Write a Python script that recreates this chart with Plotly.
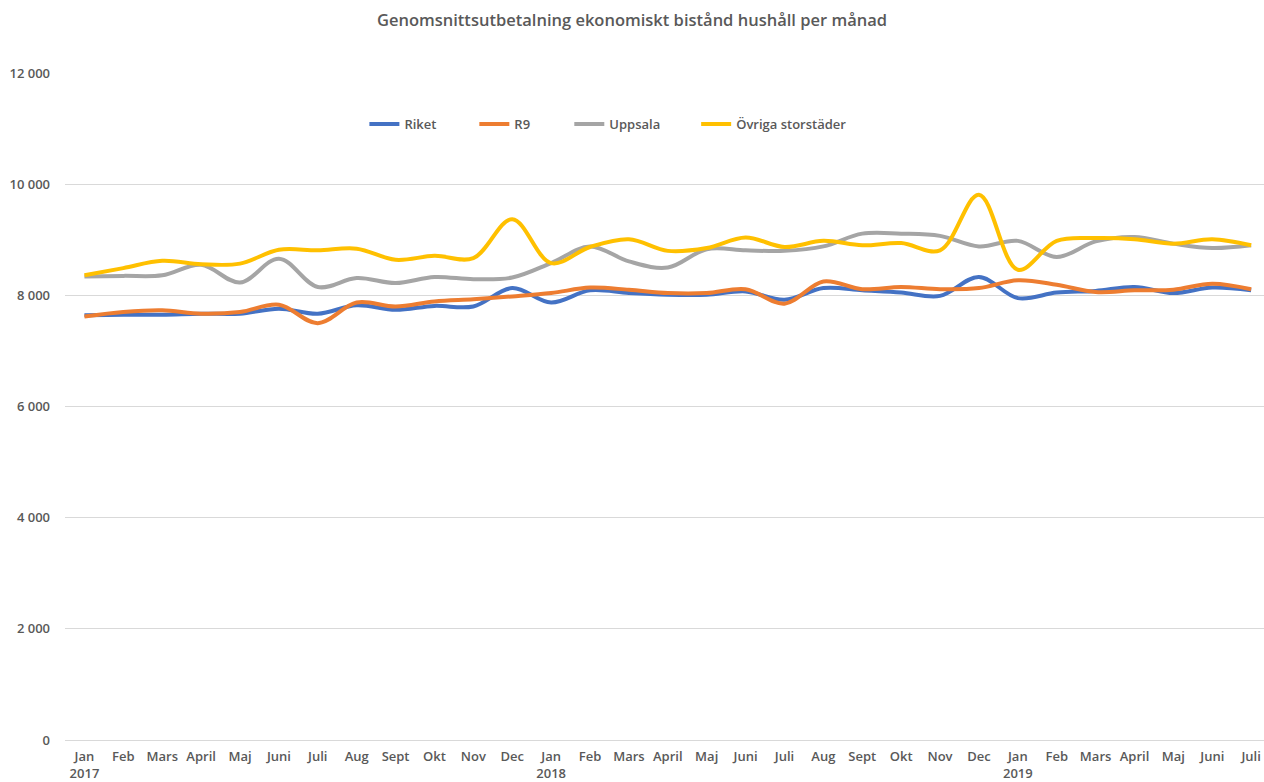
import plotly.graph_objects as go

months = ["Jan<br>2017", "Feb", "Mars", "April", "Maj", "Juni", "Juli", "Aug", "Sept", "Okt", "Nov", "Dec",
          "Jan<br>2018", "Feb", "Mars", "April", "Maj", "Juni", "Juli", "Aug", "Sept", "Okt", "Nov", "Dec",
          "Jan<br>2019", "Feb", "Mars", "April", "Maj", "Juni", "Juli"]

riket = [7640, 7650, 7650, 7670, 7670, 7760, 7670, 7820, 7740, 7810, 7800, 8130,
         7870, 8090, 8040, 8010, 8010, 8070, 7920, 8130, 8090, 8050, 7990, 8330,
         7950, 8050, 8080, 8150, 8040, 8140, 8090]
r9 = [7620, 7700, 7730, 7670, 7700, 7830, 7500, 7870, 7800, 7890, 7930, 7980,
      8040, 8140, 8100, 8040, 8040, 8110, 7850, 8250, 8110, 8150, 8110, 8130,
      8270, 8190, 8060, 8090, 8100, 8210, 8110]
uppsala = [8340, 8350, 8360, 8550, 8230, 8660, 8150, 8310, 8220, 8330, 8290, 8320,
           8580, 8880, 8610, 8500, 8830, 8810, 8800, 8880, 9110, 9110, 9070, 8880,
           8980, 8690, 8970, 9050, 8930, 8850, 8900]
ovriga = [8360, 8490, 8620, 8560, 8570, 8820, 8810, 8840, 8640, 8710, 8670, 9370,
          8580, 8870, 9010, 8800, 8850, 9040, 8870, 8980, 8900, 8940, 8810, 9810,
          8460, 8980, 9030, 9010, 8930, 9010, 8900]

series = [("Riket", riket, "#4472C4"), ("R9", r9, "#ED7D31"),
          ("Uppsala", uppsala, "#A5A5A5"), ("Övriga storstäder", ovriga, "#FFC000")]
legend_ids = ["legend", "legend2", "legend3", "legend4"]
legend_x = [0.2497, 0.3414, 0.4206, 0.5264]

font = "Open Sans, Liberation Sans, sans-serif"
x = list(range(len(months)))
fig = go.Figure()
for (name, vals, col), lid in zip(series, legend_ids):
    fig.add_trace(go.Scatter(x=x, y=vals, name=name, mode="lines", legend=lid,
                             line=dict(color=col, width=4, shape="spline", smoothing=1.0)))

legend_common = dict(orientation="h", xanchor="left", y=0.9235, yanchor="middle",
                     font=dict(family=font, size=13, color="#595959", weight=600),
                     itemwidth=30, bgcolor="rgba(0,0,0,0)")
layout_legends = {lid: dict(x=lx, **legend_common) for lid, lx in zip(legend_ids, legend_x)}

fig.update_layout(
    width=1264, height=782,
    margin=dict(l=64.5, r=0, t=73, b=42, autoexpand=False),
    paper_bgcolor="white", plot_bgcolor="white",
    separators=", ",
    title=dict(text="Genomsnittsutbetalning ekonomiskt bistånd hushåll per månad",
               x=0.5, xref="container", xanchor="center", y=1 - 20 / 782, yanchor="middle",
               font=dict(family=font, size=16.5, color="#595959", weight=600)),
    font=dict(family=font, color="#595959"),
    showlegend=True,
    **layout_legends,
)
fig.update_xaxes(tickvals=x, ticktext=months, range=[-0.5, 30.33], automargin=False,
                 showgrid=False, showline=True, linecolor="#D9D9D9", zeroline=False,
                 ticks="", ticklabelstandoff=4,
                 tickfont=dict(family=font, size=13, color="#595959", weight=600),
                 tickangle=0)
fig.update_yaxes(range=[0, 12000], dtick=2000, tickformat=",d", automargin=False,
                 showgrid=True, gridcolor="#D9D9D9", gridwidth=1, zeroline=False,
                 showline=False, ticks="", ticklabelstandoff=14,
                 tickfont=dict(family=font, size=13, color="#595959", weight=600))

fig.write_html("out.html", config={"displayModeBar": False},
               post_script="document.body.style.margin='0';document.body.style.overflow='hidden';")
